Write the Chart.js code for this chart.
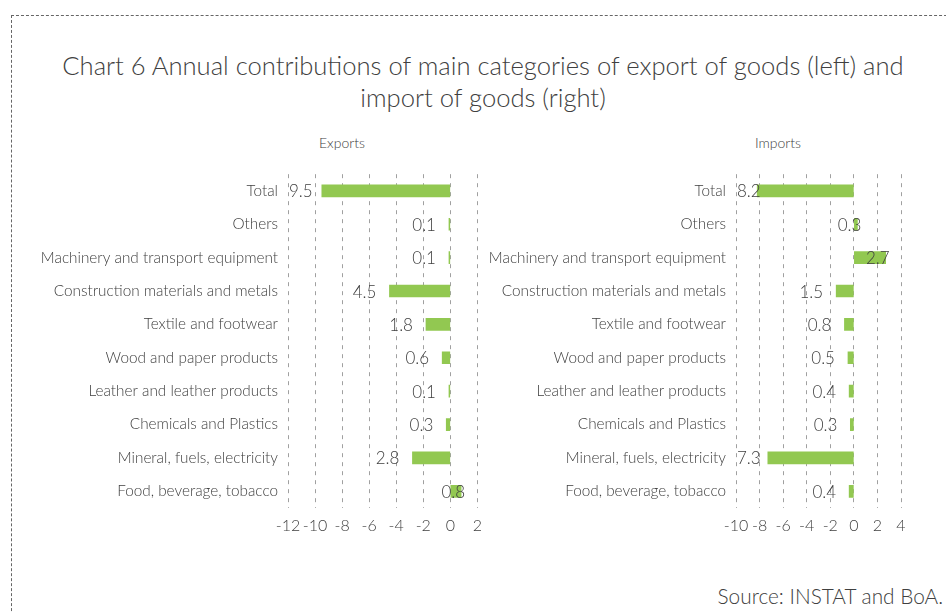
<!DOCTYPE html>
<html>
<head>
<meta charset="utf-8">
<script src="https://cdn.jsdelivr.net/npm/chart.js@4.4.1/dist/chart.umd.min.js"></script>
<style>
  body { margin: 0; background: #fff; width: 946px; height: 613px; overflow: hidden; position: relative; font-family: Lato, 'Open Sans', sans-serif; color: #404040; }
  .frame { position: absolute; left: 11px; top: 15px; width: 960px; height: 620px; border-top: 1px dashed #666; border-left: 1px dashed #666; }
  .title { position: absolute; left: 0; width: 966px; top: 49px; text-align: center; font-size: 25.6px; font-weight: 300; line-height: 32px; }
  .sub { position: absolute; top: 134px; font-size: 14px; font-weight: 300; }
  .source { position: absolute; right: 3px; top: 583px; font-size: 20.8px; font-weight: 300; }
  canvas { position: absolute; }
</style>
</head>
<body>
<div class="frame"></div>
<div class="title">Chart 6 Annual contributions of main categories of export of goods (left) and<br>import of goods (right)</div>
<div class="sub" style="left:319px">Exports</div>
<div class="sub" style="left:755px">Imports</div>
<div class="source">Source: INSTAT and BoA.</div>
<div style="position:absolute;left:20px;top:155px;width:470px;height:385px"><canvas id="exportsChart"></canvas></div>
<div style="position:absolute;left:480px;top:155px;width:466px;height:385px"><canvas id="importsChart"></canvas></div>

<script>
const categories = [
    'Total',
    'Others',
    'Machinery and transport equipment',
    'Construction materials and metals',
    'Textile and footwear',
    'Wood and paper products',
    'Leather and leather products',
    'Chemicals and Plastics',
    'Mineral, fuels, electricity',
    'Food, beverage, tobacco'
];
const exportsValues = [-9.5, -0.1, -0.1, -4.5, -1.8, -0.6, -0.1, -0.3, -2.8, 0.8];
const importsValues = [-8.2, 0.3, 2.7, -1.5, -0.8, -0.5, -0.4, -0.3, -7.3, -0.4];
const exportsTicks = [-12, 2];   // min, max
const importsTicks = [-10, 4];

const textColor = '#404040';
const barColor = '#92c851';
const fontFamily = "Lato, 'Open Sans', sans-serif";

// подписи значений (без знака минус, как в оригинале)
const valueLabels = {
    id: 'valueLabels',
    afterDatasetsDraw(chart) {
        const ctx = chart.ctx;
        const area = chart.chartArea;
        const meta = chart.getDatasetMeta(0);
        const data = chart.data.datasets[0].data;
        ctx.save();
        ctx.font = '300 17px ' + fontFamily;
        ctx.fillStyle = textColor;
        ctx.textBaseline = 'middle';
        ctx.textAlign = 'right';
        meta.data.forEach((bar, i) => {
            const v = data[i];
            const text = Math.abs(v).toFixed(1);
            const w = ctx.measureText(text).width;
            let x;
            if (v < 0) {
                x = Math.max(bar.x - 13, area.left + w + 1);
            } else {
                x = bar.x + 4;
            }
            ctx.fillText(text, x, bar.y + 1);
        });
        ctx.restore();
    }
};

function makeChart(id, values, range, labelWidth, padRight) {
    const ctx = document.getElementById(id).getContext('2d');
    return new Chart(ctx, {
        type: 'bar',
        data: {
            labels: categories,
            datasets: [{
                data: values,
                backgroundColor: barColor,
                barThickness: 12
            }]
        },
        options: {
            indexAxis: 'y',
            responsive: true,
            maintainAspectRatio: false,
            animation: false,
            layout: { padding: { top: 2, right: padRight, left: 0, bottom: 0 } },
            plugins: {
                legend: { display: false },
                tooltip: { enabled: false }
            },
            scales: {
                x: {
                    min: range[0],
                    max: range[1],
                    ticks: {
                        stepSize: 2,
                        autoSkip: false,
                        maxRotation: 0,
                        minRotation: 0,
                        color: textColor,
                        font: { family: fontFamily, size: 16, weight: '300' },
                        padding: 8
                    },
                    grid: {
                        color: '#a0a0a0',
                        lineWidth: 1,
                        drawTicks: false
                    },
                    border: { display: false, dash: [4, 5] },
                    afterFit: s => { s.height = 32; }
                },
                y: {
                    ticks: {
                        color: textColor,
                        font: { family: fontFamily, size: 15.3, weight: '300' },
                        padding: 10
                    },
                    grid: { display: false, drawTicks: false },
                    border: { display: false },
                    afterFit: s => { s.width = labelWidth; }
                }
            }
        },
        plugins: [valueLabels]
    });
}

makeChart('exportsChart', exportsValues, exportsTicks, 268, 12);
makeChart('importsChart', importsValues, importsTicks, 256, 45);
</script>
</body>
</html>
